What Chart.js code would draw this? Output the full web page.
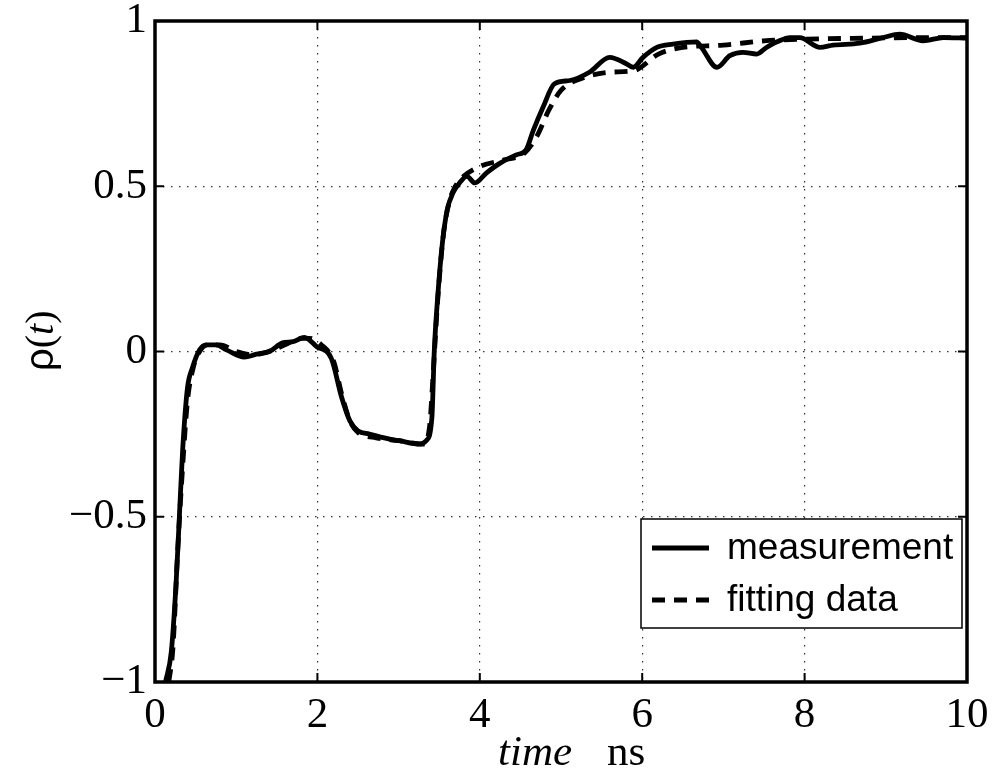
<!DOCTYPE html>
<html>
<head>
<meta charset="utf-8">
<script src="https://cdn.jsdelivr.net/npm/chart.js@4.4.1/dist/chart.umd.min.js"></script>
<style>
  html, body { margin: 0; padding: 0; background: #fff; }
  #wrap { width: 997px; height: 778px; }
</style>
</head>
<body>
<div id="wrap"><canvas id="c" width="997" height="778"></canvas></div>
<script>
// measurement curve (time in ns, rho)
var measTime = [0.13, 0.2, 0.26, 0.30, 0.34, 0.40, 0.46, 0.55, 0.63, 0.75, 0.88, 1.10, 1.25, 1.41, 1.57, 1.70, 1.84, 1.99, 2.17, 2.30, 2.40, 2.50, 2.64, 2.89, 3.01, 3.26, 3.34, 3.41, 3.44, 3.48, 3.54, 3.60, 3.67, 3.75, 3.84, 3.94, 4.08, 4.25, 4.45, 4.57, 4.66, 4.78, 4.92, 5.11, 5.35, 5.60, 5.81, 5.89, 6.01, 6.18, 6.38, 6.67, 6.73, 6.92, 7.08, 7.24, 7.41, 7.53, 7.66, 7.82, 7.94, 8.19, 8.35, 8.68, 8.97, 9.17, 9.46, 9.71, 10];
var measValue = [-1, -0.91, -0.70, -0.50, -0.30, -0.11, -0.05, 0.005, 0.02, 0.02, 0.005, -0.017, -0.008, 0, 0.026, 0.03, 0.043, 0.015, -0.02, -0.14, -0.21, -0.24, -0.25, -0.265, -0.27, -0.28, -0.27, -0.20, 0.005, 0.16, 0.33, 0.43, 0.48, 0.51, 0.53, 0.51, 0.54, 0.57, 0.595, 0.61, 0.67, 0.74, 0.81, 0.82, 0.845, 0.89, 0.87, 0.86, 0.89, 0.92, 0.93, 0.937, 0.92, 0.86, 0.895, 0.905, 0.90, 0.92, 0.937, 0.95, 0.95, 0.92, 0.927, 0.933, 0.95, 0.96, 0.94, 0.95, 0.948];

// fitting curve
var fitTime = [0.17, 0.22, 0.28, 0.34, 0.40, 0.47, 0.55, 0.65, 0.80, 1.0, 1.2, 1.4, 1.6, 1.8, 1.9, 2.05, 2.2, 2.3, 2.4, 2.5, 2.7, 3.0, 3.3, 3.38, 3.43, 3.48, 3.55, 3.62, 3.7, 3.8, 4.0, 4.3, 4.55, 4.7, 4.85, 5.0, 5.3, 5.6, 5.9, 6.2, 6.5, 7.0, 7.5, 8.0, 8.8, 9.5, 10];
var fitValue = [-1, -0.9, -0.6, -0.35, -0.15, -0.05, 0.0, 0.02, 0.02, 0.0, -0.01, 0.0, 0.02, 0.04, 0.04, 0.02, -0.03, -0.13, -0.21, -0.245, -0.26, -0.27, -0.28, -0.23, -0.05, 0.15, 0.35, 0.45, 0.5, 0.53, 0.56, 0.58, 0.6, 0.65, 0.73, 0.79, 0.83, 0.845, 0.85, 0.90, 0.92, 0.927, 0.94, 0.945, 0.948, 0.95, 0.95];

var xTicks = [0, 2, 4, 6, 8, 10];
var yTicks = [-1, -0.5, 0, 0.5, 1];
var seriesNames = ['measurement', 'fitting data'];

function pts(xs, ys) {
  return xs.map(function (x, i) { return { x: x, y: ys[i] }; });
}

function fmt(v) {
  return v < 0 ? '\u2212' + Math.abs(v) : String(v);
}

var SERIF = "'Liberation Serif', 'Times New Roman', serif";
var SANS = "'Liberation Sans', Arial, sans-serif";

// white background, box, inward ticks, titles and legend
var decor = {
  id: 'decor',
  beforeDraw: function (chart) {
    var ctx = chart.ctx;
    ctx.save();
    ctx.fillStyle = '#fff';
    ctx.fillRect(0, 0, chart.width, chart.height);
    ctx.restore();
  },
  afterDraw: function (chart) {
    var ctx = chart.ctx, a = chart.chartArea;
    var xs = chart.scales.x, ys = chart.scales.y;
    ctx.save();

    // ticks pointing inward on all four sides
    ctx.strokeStyle = '#000';
    ctx.lineWidth = 2;
    var tl = 9;
    xTicks.forEach(function (t) {
      var px = xs.getPixelForValue(t);
      ctx.beginPath();
      ctx.moveTo(px, a.bottom); ctx.lineTo(px, a.bottom - tl);
      ctx.moveTo(px, a.top); ctx.lineTo(px, a.top + tl);
      ctx.stroke();
    });
    yTicks.forEach(function (t) {
      var py = ys.getPixelForValue(t);
      ctx.beginPath();
      ctx.moveTo(a.left, py); ctx.lineTo(a.left + tl, py);
      ctx.moveTo(a.right, py); ctx.lineTo(a.right - tl, py);
      ctx.stroke();
    });

    // axes box
    ctx.lineWidth = 3.5;
    ctx.strokeRect(a.left, a.top, a.right - a.left, a.bottom - a.top);

    // x title: "time ns"
    ctx.fillStyle = '#000';
    ctx.textBaseline = 'alphabetic';
    ctx.textAlign = 'left';
    ctx.font = 'italic 43px ' + SERIF;
    ctx.fillText('time', 498, 765);
    ctx.font = '43px ' + SERIF;
    ctx.fillText('ns', 607, 765);

    // y title: rho(t), rotated
    ctx.save();
    ctx.translate(53, 371);
    ctx.rotate(-Math.PI / 2);
    ctx.font = '40px ' + SANS;
    ctx.fillText('\u03c1', 0, 0);
    var w = ctx.measureText('\u03c1').width;
    ctx.font = '40px ' + SERIF;
    ctx.fillText('(', w, 0);
    w += ctx.measureText('(').width;
    ctx.font = 'italic 40px ' + SERIF;
    ctx.fillText('t', w, 0);
    w += ctx.measureText('t').width;
    ctx.font = '40px ' + SERIF;
    ctx.fillText(')', w, 0);
    ctx.restore();

    // legend
    var bx = 641, by = 519, bw = 321, bh = 109;
    ctx.fillStyle = '#fff';
    ctx.fillRect(bx, by, bw, bh);
    ctx.lineWidth = 1.5;
    ctx.strokeStyle = '#000';
    ctx.strokeRect(bx, by, bw, bh);
    var rows = [548, 600];
    chart.data.datasets.forEach(function (ds, i) {
      ctx.beginPath();
      ctx.lineWidth = ds.borderWidth;
      ctx.setLineDash(ds.borderDash || []);
      ctx.moveTo(652, rows[i]);
      ctx.lineTo(709, rows[i]);
      ctx.stroke();
      ctx.setLineDash([]);
      ctx.fillStyle = '#000';
      ctx.font = '37px ' + SANS;
      ctx.textBaseline = 'middle';
      ctx.fillText(ds.label, 727, rows[i] + 1);
    });
    ctx.restore();
  }
};

new Chart(document.getElementById('c'), {
  type: 'line',
  data: {
    datasets: [
      {
        label: seriesNames[0],
        data: pts(measTime, measValue),
        borderColor: '#000',
        borderWidth: 4.8,
        pointRadius: 0,
        cubicInterpolationMode: 'monotone',
        order: 1
      },
      {
        label: seriesNames[1],
        data: pts(fitTime, fitValue),
        borderColor: '#000',
        borderWidth: 4.8,
        borderDash: [13, 9],
        pointRadius: 0,
        cubicInterpolationMode: 'monotone',
        order: 0
      }
    ]
  },
  options: {
    responsive: false,
    animation: false,
    events: [],
    layout: { padding: { left: 0, right: 30, top: 21, bottom: 0 } },
    plugins: {
      legend: { display: false },
      tooltip: { enabled: false }
    },
    scales: {
      x: {
        type: 'linear',
        min: 0, max: 10,
        afterBuildTicks: function (s) { s.ticks = xTicks.map(function (v) { return { value: v }; }); },
        afterFit: function (s) { s.height = 96; },
        border: { display: false, dash: [1.5, 6.5] },
        grid: {
          drawTicks: false,
          lineWidth: 1.2,
          color: function (c) { return (c.tick && (c.tick.value === 0 || c.tick.value === 10)) ? 'rgba(0,0,0,0)' : '#333'; }
        },
        ticks: {
          padding: 8,
          color: '#000',
          font: { family: SERIF, size: 43 },
          maxRotation: 0,
          callback: function (v) { return fmt(v); }
        }
      },
      y: {
        min: -1, max: 1,
        afterBuildTicks: function (s) { s.ticks = yTicks.map(function (v) { return { value: v }; }); },
        afterFit: function (s) { s.width = 155; },
        border: { display: false, dash: [1.5, 6.5] },
        grid: {
          drawTicks: false,
          lineWidth: 1.2,
          color: function (c) { return (c.tick && (c.tick.value === -1 || c.tick.value === 1)) ? 'rgba(0,0,0,0)' : '#333'; }
        },
        ticks: {
          padding: 8,
          color: '#000',
          font: { family: SERIF, size: 43, lineHeight: 0.4 },
          callback: function (v) { return fmt(v); }
        }
      }
    }
  },
  plugins: [decor]
});
</script>
</body>
</html>
